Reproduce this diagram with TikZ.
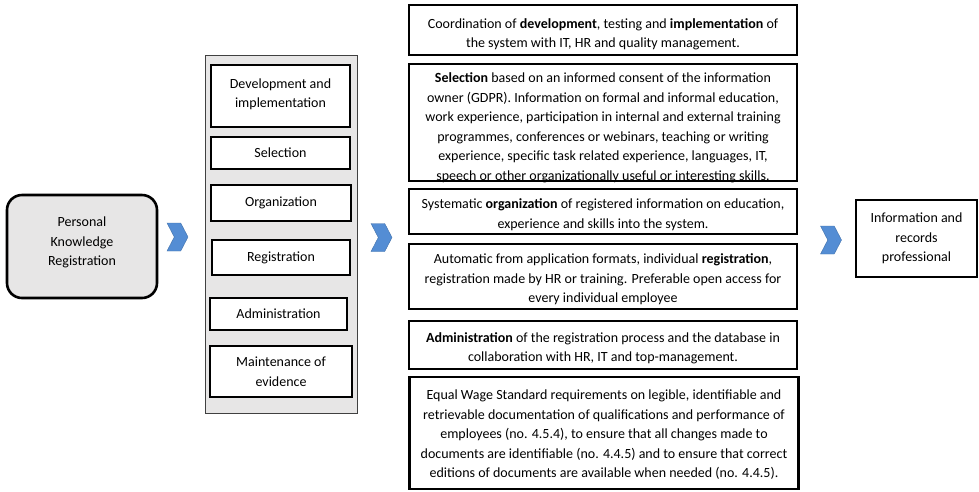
\documentclass[tikz,border=0pt]{standalone}
\usepackage{fontspec}
\setmainfont{Carlito}
\usetikzlibrary{shapes.symbols}

\definecolor{panelgray}{RGB}{231,230,230}
\definecolor{chevblue}{RGB}{84,141,212}
\definecolor{chevline}{RGB}{65,113,170}

% text block moved up or down inside its box
\newcommand{\movedText}[2]{\raisebox{#1}[\height][\depth]{\begin{tabular}{@{}c@{}}#2\end{tabular}}}

\begin{document}
\begin{tikzpicture}[x = 1pt, y = -1pt, font = \fontsize{14}{19.5}\selectfont]
	\tikzstyle{startStyle} = [draw, fill = panelgray, rounded corners = 15pt, line width = 2.6pt, align = center, inner sep = 0pt]
	\tikzstyle{panelStyle} = [draw = black!75, fill = panelgray, line width = 1pt, inner sep = 0pt]
	\tikzstyle{stepStyle} = [draw, fill = white, line width = 1.1pt, align = center, inner sep = 0pt]
	\tikzstyle{infoStyle} = [draw, fill = white, line width = 1.1pt, align = center, inner sep = 0pt, minimum width = 388pt]
	\tikzstyle{heavyStyle} = [line width = 2.8pt]
	\tikzstyle{chevStyle} = [shape = signal, signal to = east, signal from = west, signal pointer angle = 125, fill = chevblue, draw = chevline, line width = 0.4pt, minimum width = 21pt, minimum height = 28pt, inner sep = 0pt]
	\useasboundingbox (0,0) rectangle (979,491);

	\node[startStyle, minimum width = 150pt, minimum height = 103pt] (pkr) at (82, 246.5) {\movedText{4pt}{Personal\\Knowledge\\Registration}};
	\node[chevStyle] (c1) at (177.5, 237) {};

	\node[panelStyle, minimum width = 152pt, minimum height = 358pt] (panel) at (281, 234) {};
	\node[stepStyle, minimum width = 139pt, minimum height = 62pt] (dev) at (280.5, 96) {\movedText{2pt}{Development and\\implementation}};
	\node[stepStyle, minimum width = 139pt, minimum height = 32pt] (sel) at (280.5, 153) {Selection};
	\node[stepStyle, minimum width = 140pt, minimum height = 36pt] (org) at (281, 203) {Organization};
	\node[stepStyle, minimum width = 138pt, minimum height = 35pt] (reg) at (281, 257.5) {Registration};
	\node[stepStyle, minimum width = 137pt, minimum height = 32pt] (adm) at (278.5, 314) {Administration};
	\node[stepStyle, heavyStyle, minimum width = 142pt, minimum height = 51pt] (mnt) at (281, 371.5) {Maintenance of\\evidence};
	\node[chevStyle] (c2) at (381.5, 237.5) {};

	\node[infoStyle, minimum height = 50pt] (idev) at (603, 30) {\movedText{-4pt}{Coordination of \textbf{development}, testing and \textbf{implementation} of\\the system with IT, HR and quality management.}};
	\node[infoStyle, minimum height = 115pt] (isel) at (603, 122.5) {\movedText{-5pt}{\textbf{Selection} based on an informed consent of the information\\owner (GDPR). Information on formal and informal education,\\work experience, participation in internal and external training\\programmes, conferences or webinars, teaching or writing\\experience, specific task related experience, languages, IT,\\speech or other organizationally useful or interesting skills.}};
	\node[infoStyle, minimum height = 45pt] (iorg) at (603, 211.5) {\movedText{-3pt}{Systematic \textbf{organization} of registered information on education,\\experience and skills into the system.}};
	\node[infoStyle, minimum height = 65pt] (ireg) at (603, 276.5) {\movedText{-3pt}{Automatic from application formats, individual \textbf{registration},\\registration made by HR or training. Preferable open access for\\every individual employee}};
	\node[infoStyle, minimum height = 48pt] (iadm) at (603, 345) {\movedText{-3pt}{\textbf{Administration} of the registration process and the database in\\collaboration with HR, IT and top-management.}};
	\node[infoStyle, heavyStyle, minimum width = 389pt, minimum height = 112pt] (imnt) at (604, 433) {\movedText{-2pt}{Equal Wage Standard requirements on legible, identifiable and\\retrievable documentation of qualifications and performance of\\employees (no. 4.5.4), to ensure that all changes made to\\documents are identifiable (no. 4.4.5) and to ensure that correct\\editions of documents are available when needed (no. 4.4.5).}};
	\node[chevStyle] (c3) at (831, 240) {};

	\node[stepStyle, heavyStyle, minimum width = 121pt, minimum height = 77pt] (irp) at (916.5, 238.5) {Information and\\records\\professional};
\end{tikzpicture}
\end{document}
